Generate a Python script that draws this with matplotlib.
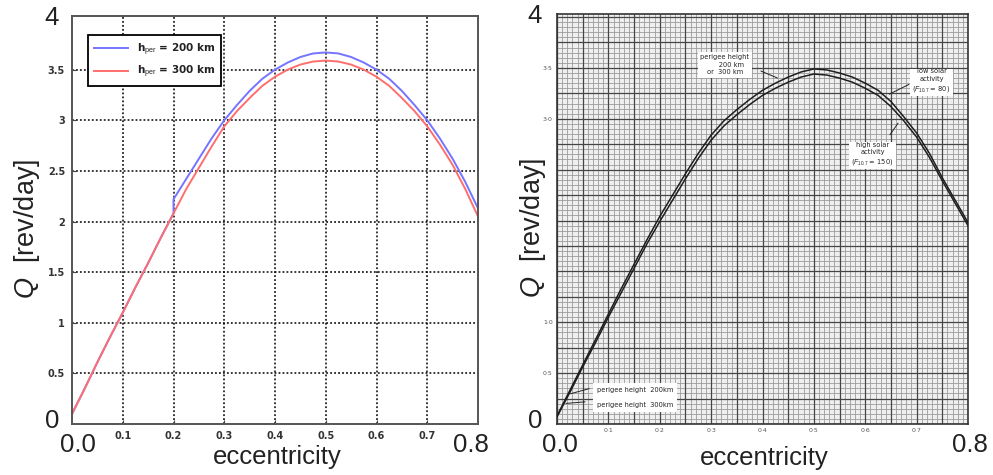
import numpy as np
import matplotlib
matplotlib.use('Agg')
from matplotlib import pyplot as plt

plt.rcParams['font.family'] = ['DejaVu Sans']
plt.rcParams['mathtext.fontset'] = 'custom'
plt.rcParams['mathtext.rm'] = 'Liberation Sans'
plt.rcParams['mathtext.it'] = 'Liberation Sans:italic'

# ---- left panel: computed Q vs eccentricity ----
e_red = [0.0, 0.025, 0.05, 0.075, 0.1, 0.125, 0.15, 0.175, 0.2, 0.225, 0.25, 0.275,
         0.3, 0.325, 0.35, 0.375, 0.4, 0.425, 0.45, 0.475, 0.5, 0.525, 0.55, 0.575,
         0.6, 0.625, 0.65, 0.675, 0.7, 0.725, 0.75, 0.775, 0.8]
q_300 = [0.10, 0.35, 0.61, 0.86, 1.10, 1.35, 1.59, 1.84, 2.08, 2.32, 2.53, 2.74,
         2.94, 3.09, 3.22, 3.34, 3.43, 3.50, 3.55, 3.58, 3.59, 3.58, 3.55, 3.50,
         3.43, 3.34, 3.22, 3.09, 2.94, 2.76, 2.56, 2.32, 2.05]
# 200 km curve: hidden under the red one below e=0.2, then a small jump
e_blue = [0.0, 0.025, 0.05, 0.075, 0.1, 0.125, 0.15, 0.175, 0.2, 0.2, 0.225, 0.25,
          0.275, 0.3, 0.325, 0.35, 0.375, 0.4, 0.425, 0.45, 0.475, 0.5, 0.525, 0.55,
          0.575, 0.6, 0.625, 0.65, 0.675, 0.7, 0.725, 0.75, 0.775, 0.8]
q_200 = [0.10, 0.35, 0.61, 0.86, 1.10, 1.35, 1.59, 1.84, 2.08, 2.22, 2.42, 2.62,
         2.82, 3.00, 3.15, 3.29, 3.41, 3.50, 3.57, 3.625, 3.66, 3.67, 3.66, 3.625,
         3.57, 3.50, 3.41, 3.29, 3.15, 3.00, 2.82, 2.62, 2.39, 2.13]

# ---- right panel: scanned reference chart ----
e_scan = [0.0, 0.025, 0.05, 0.075, 0.1, 0.125, 0.15, 0.175, 0.2, 0.225, 0.25, 0.275,
          0.3, 0.325, 0.35, 0.375, 0.4, 0.425, 0.45, 0.475, 0.5, 0.525, 0.55, 0.575,
          0.6, 0.625, 0.65, 0.675, 0.7, 0.725, 0.75, 0.775, 0.8]
q_low_solar = [0.08, 0.33, 0.58, 0.83, 1.08, 1.33, 1.57, 1.81, 2.04, 2.25, 2.46, 2.66,
               2.84, 2.98, 3.09, 3.19, 3.28, 3.35, 3.41, 3.46, 3.49, 3.48, 3.45, 3.41,
               3.35, 3.28, 3.17, 3.02, 2.86, 2.66, 2.42, 2.20, 1.98]
q_high_solar = [0.07, 0.31, 0.56, 0.80, 1.05, 1.29, 1.53, 1.77, 1.99, 2.20, 2.41, 2.61,
                2.79, 2.93, 3.04, 3.14, 3.23, 3.30, 3.36, 3.41, 3.44, 3.43, 3.40, 3.36,
                3.30, 3.23, 3.12, 2.98, 2.82, 2.62, 2.39, 2.17, 1.95]

x_ticks = [0.1, 0.2, 0.3, 0.4, 0.5, 0.6, 0.7]
y_ticks = [0.5, 1.0, 1.5, 2.0, 2.5, 3.0, 3.5]
scan_yticks = [0.5, 1.0, 3.0, 3.5]

big = 18.5
big_font = 'Liberation Sans'
txt_col = '#222222'

fig = plt.figure(figsize=(9.93, 4.75), dpi=100)
ax1 = fig.add_axes([72/993, 51/475, 406/993, 408/475])
ax2 = fig.add_axes([557/993, 51/475, 411/993, 410/475])


def big_labels(ax, ylab_x, dx0, dx8, dy4):
    ax.set_xlim(0, 0.8)
    ax.set_ylim(0, 4.03)
    ax.set_xlabel('eccentricity', fontsize=big, color=txt_col, family=big_font)
    ax.xaxis.label.set_va('center')
    ax.xaxis.set_label_coords(0.505, -0.082)
    ax.set_ylabel(r'$Q$  [rev/day]', fontsize=19.5, color=txt_col, family=big_font)
    ax.yaxis.label.set_va('center')
    ax.yaxis.set_label_coords(ylab_x, 0.478)
    kw = dict(textcoords='offset pixels', fontsize=big, color=txt_col, family=big_font,
              ha='center', va='center', annotation_clip=False)
    ax.annotate('4', xy=(0, 4), xytext=(dy4, 1), **kw)
    ax.annotate('0', xy=(0, 0), xytext=(dy4, 3), **kw)
    ax.annotate('0.0', xy=(0, 0), xytext=(dx0, -21), **kw)
    ax.annotate('0.8', xy=(0.8, 0), xytext=(dx8, -21), **kw)


# left panel
ax1.plot(e_blue, q_200, color='#7474ff', lw=1.4, label=r'h$_{\rm per}$ = 200 km')
ax1.plot(e_red, q_300, color='#ff6e6e', lw=1.4, label=r'h$_{\rm per}$ = 300 km')
ax1.set_xticks(x_ticks)
ax1.set_yticks(y_ticks)
ax1.set_xticklabels([f'{v:g}' for v in x_ticks])
ax1.set_yticklabels([f'{v:g}' for v in y_ticks])
ax1.tick_params(direction='in', length=3, labelsize=7, labelcolor='#333333',
                color='#444444', pad=5)
for lab in ax1.get_xticklabels() + ax1.get_yticklabels():
    lab.set_fontweight('bold')
ax1.grid(True, color='black', linestyle=(0, (1.2, 1.4)), linewidth=1.1)
for s in ax1.spines.values():
    s.set_color('#555555')
    s.set_linewidth(1.4)
leg = ax1.legend(loc='upper left', bbox_to_anchor=(0.039, 0.953), borderaxespad=0,
                 fontsize=7.5, handlelength=3.3, fancybox=False, framealpha=1,
                 edgecolor='black', borderpad=0.6, labelspacing=0.55)
leg.get_frame().set_linewidth(1.3)
for t in leg.get_texts():
    t.set_fontweight('bold')
    t.set_color('#222222')
big_labels(ax1, -0.112, 6, -7, -20)

# right panel: graph paper
ax2.set_facecolor('#efefef')
ax2.vlines(np.arange(0, 0.8, 0.01), 0, 4.03, color='#9c9c9c', lw=0.6, zorder=0)
ax2.hlines(np.arange(0, 4.03, 0.05), 0, 0.8, color='#9c9c9c', lw=0.6, zorder=0)
ax2.vlines(np.arange(0, 0.8, 0.05), 0, 4.03, color='#454545', lw=0.9, zorder=0.5)
ax2.hlines(np.arange(0, 4.03, 0.25), 0, 0.8, color='#454545', lw=0.9, zorder=0.5)
ax2.plot(e_scan, q_low_solar, color='#1e1e1e', lw=1.1, zorder=3)
ax2.plot(e_scan, q_high_solar, color='#1e1e1e', lw=1.1, zorder=3)
ax2.set_xticks(x_ticks)
ax2.set_xticklabels([f'{v:g}'.replace('.', '\u00b7') for v in x_ticks])
ax2.set_yticks(scan_yticks)
ax2.set_yticklabels([f'{v:.1f}'.replace('.', '\u00b7') for v in scan_yticks])
ax2.tick_params(length=0, labelsize=4.5, labelcolor='#555555', pad=3)
for s in ax2.spines.values():
    s.set_color('#333333')
    s.set_linewidth(1.2)

box = dict(boxstyle='square,pad=0.35', fc='white', ec='none')
note = dict(fontsize=4.8, color='#222222', zorder=5, linespacing=1.3)
lead = dict(arrowstyle='-', color='#222222', lw=0.7)

ax2.text(0.327, 3.53, 'perigee height\n      200 km\nor  300 km', ha='center',
         va='center', bbox=box, **note)
ax2.annotate('', xy=(0.434, 3.39), xytext=(0.392, 3.48), arrowprops=lead, zorder=5)
ax2.text(0.729, 3.37, 'low solar\nactivity\n' + r'($F_{10.7}$ = 80)', ha='center',
         va='center', bbox=box, **note)
ax2.annotate('', xy=(0.642, 3.23), xytext=(0.69, 3.35), arrowprops=lead, zorder=5)
ax2.text(0.614, 2.65, 'high solar\nactivity\n' + r'($F_{10.7}$ = 150)', ha='center',
         va='center', bbox=box, **note)
ax2.annotate('', xy=(0.667, 2.98), xytext=(0.645, 2.82), arrowprops=lead, zorder=5)
ax2.text(0.152, 0.26, 'perigee height  200km\n\nperigee height  300km', ha='center',
         va='center', bbox=dict(boxstyle='square,pad=0.6', fc='white', ec='none'), **note)
ax2.annotate('', xy=(0.021, 0.29), xytext=(0.068, 0.355), arrowprops=lead, zorder=6)
ax2.annotate('', xy=(0.012, 0.20), xytext=(0.06, 0.22), arrowprops=lead, zorder=6)
big_labels(ax2, -0.058, 3, 2, -22)

fig.savefig('out.png', dpi=100)
